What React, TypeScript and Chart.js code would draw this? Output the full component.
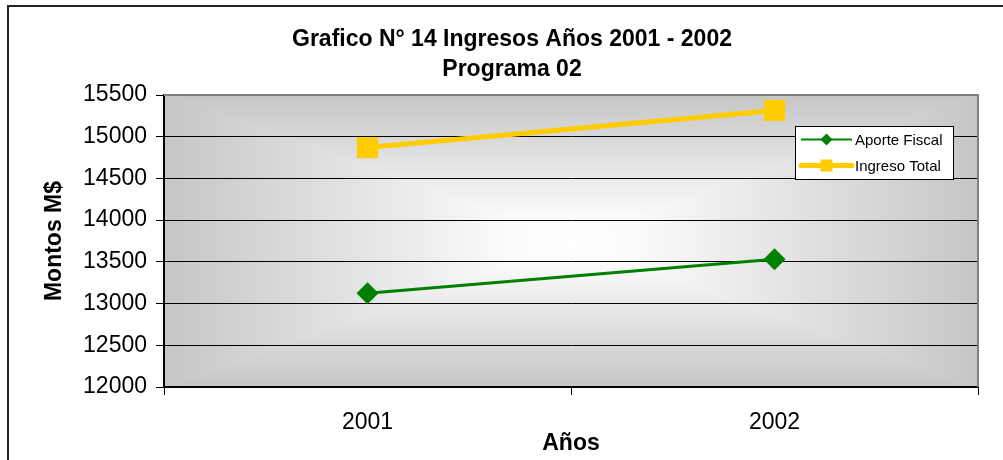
import React, { useEffect, useRef } from 'react';
import { Chart, registerables } from 'chart.js';

Chart.register(...registerables);

const FONT = '"Liberation Sans", Arial, Helvetica, sans-serif';

const categories = ['2001', '2002'];
const aporteFiscal = [13125, 13530];
const ingresoTotal = [14870, 15315];
const seriesLabels = ['Aporte Fiscal', 'Ingreso Total'];
const titleLines = ['Grafico N° 14 Ingresos Años 2001 - 2002', 'Programa 02'];
const yAxisTitle = 'Montos M$';
const xAxisTitle = 'Años';
const yMin = 12000;
const yMax = 15500;
const yStep = 500;

const GREEN = '#008000';
const YELLOW = '#FFCC00';

const plotBackground = {
  id: 'plotBackground',
  beforeDraw(chart: any) {
    const { ctx, chartArea: a } = chart;
    if (!a) return;
    const cx = (a.left + a.right) / 2;
    const cy = (a.top + a.bottom) / 2;
    const parts: [number, number, number, number, number, number][] = [
      [a.left, a.top, a.right, a.top, cx, a.top],
      [a.left, a.bottom, a.right, a.bottom, cx, a.bottom],
      [a.left, a.top, a.left, a.bottom, a.left, cy],
      [a.right, a.top, a.right, a.bottom, a.right, cy],
    ];
    ctx.save();
    ctx.beginPath();
    ctx.rect(a.left, a.top, a.right - a.left, a.bottom - a.top);
    ctx.clip();
    for (const [x1, y1, x2, y2, ex, ey] of parts) {
      const g = ctx.createLinearGradient(cx, cy, ex, ey);
      g.addColorStop(0, '#ffffff');
      g.addColorStop(0.15, '#fbfbfb');
      g.addColorStop(1, '#c6c6c6');
      ctx.beginPath();
      ctx.moveTo(cx, cy);
      ctx.lineTo(x1, y1);
      ctx.lineTo(x2, y2);
      ctx.closePath();
      ctx.fillStyle = g;
      ctx.strokeStyle = g;
      ctx.lineWidth = 1;
      ctx.fill();
      ctx.stroke();
    }
    ctx.restore();
  },
  beforeDatasetsDraw(chart: any) {
    const { ctx, chartArea: a } = chart;
    ctx.save();
    ctx.strokeStyle = '#808080';
    ctx.lineWidth = 2;
    ctx.beginPath();
    ctx.moveTo(a.left, a.top);
    ctx.lineTo(a.right, a.top);
    ctx.lineTo(a.right, a.bottom);
    ctx.stroke();
    ctx.restore();
  },
};

const frameAndLegend = {
  id: 'frameAndLegend',
  afterDraw(chart: any) {
    const { ctx, chartArea: a } = chart;
    ctx.save();
    ctx.strokeStyle = '#222';
    ctx.lineWidth = 2;
    ctx.strokeRect(8, 6, chart.width + 50, chart.height + 50);

    const w = 158;
    const h = 53;
    const x0 = a.right - 25 - w;
    const y0 = a.top + 31;
    ctx.fillStyle = '#ffffff';
    ctx.fillRect(x0, y0, w, h);
    ctx.strokeStyle = '#000';
    ctx.lineWidth = 1;
    ctx.strokeRect(x0 + 0.5, y0 + 0.5, w, h);

    chart.data.datasets.forEach((ds: any, i: number) => {
      const ry = y0 + 13.5 + i * 26;
      const lx1 = x0 + 6;
      const lx2 = x0 + 57;
      const mx = (lx1 + lx2) / 2;
      ctx.strokeStyle = ds.borderColor;
      ctx.lineWidth = i === 0 ? 2 : 5;
      ctx.lineCap = i === 0 ? 'butt' : 'round';
      ctx.beginPath();
      ctx.moveTo(lx1, ry);
      ctx.lineTo(lx2, ry);
      ctx.stroke();
      ctx.fillStyle = ds.backgroundColor;
      ctx.beginPath();
      if (ds.pointStyle === 'rectRot') {
        const r = 6;
        ctx.moveTo(mx - r, ry);
        ctx.lineTo(mx, ry - r);
        ctx.lineTo(mx + r, ry);
        ctx.lineTo(mx, ry + r);
        ctx.closePath();
      } else {
        const s = 6;
        ctx.rect(mx - s, ry - s, 2 * s, 2 * s);
      }
      ctx.fill();
      ctx.fillStyle = '#000';
      ctx.font = `15px ${FONT}`;
      ctx.textBaseline = 'middle';
      ctx.textAlign = 'left';
      ctx.fillText(ds.label, x0 + 60, ry + 1);
    });
    ctx.restore();
  },
};

export default function App() {
  const ref = useRef<HTMLCanvasElement>(null);

  useEffect(() => {
    if (!ref.current) return;
    const chart = new Chart(ref.current, {
      type: 'line',
      data: {
        labels: categories,
        datasets: [
          {
            label: seriesLabels[0],
            data: aporteFiscal,
            borderColor: GREEN,
            backgroundColor: GREEN,
            borderWidth: 3,
            pointStyle: 'rectRot',
            pointRadius: 11,
            pointBorderWidth: 0,
            pointBackgroundColor: GREEN,
            tension: 0,
          },
          {
            label: seriesLabels[1],
            data: ingresoTotal,
            borderColor: YELLOW,
            backgroundColor: YELLOW,
            borderWidth: 5,
            pointStyle: 'rect',
            pointRadius: 15,
            pointBorderWidth: 0,
            pointBackgroundColor: YELLOW,
            tension: 0,
          },
        ],
      },
      options: {
        animation: false,
        responsive: false,
        events: [],
        layout: { padding: { left: 46, right: 25, top: 0, bottom: 0 } },
        plugins: {
          legend: { display: false },
          tooltip: { enabled: false },
          title: {
            display: true,
            text: titleLines,
            color: '#000',
            font: { family: FONT, size: 23, weight: 'bold', lineHeight: '30px' },
            padding: { top: 25, bottom: 10 },
          },
        },
        scales: {
          x: {
            type: 'category',
            offset: true,
            grid: {
              offset: true,
              drawOnChartArea: false,
              drawTicks: true,
              tickLength: 8,
              color: '#000',
              tickColor: '#000',
            },
            border: { color: '#000', width: 2 },
            ticks: {
              color: '#000',
              font: { family: FONT, size: 23 },
              padding: 14,
              maxRotation: 0,
            },
            title: {
              display: true,
              text: xAxisTitle,
              color: '#000',
              font: { family: FONT, size: 23, weight: 'bold' },
              padding: { top: 0, bottom: 3 },
            },
            afterFit(scale: any) {
              scale.height = 73;
            },
          },
          y: {
            type: 'linear',
            min: yMin,
            max: yMax,
            ticks: {
              stepSize: yStep,
              color: '#000',
              font: { family: FONT, size: 23 },
              padding: 9,
              callback: (v: any) => String(v),
            },
            grid: {
              color: (c: any) => (c.tick && c.tick.value === yMax ? 'rgba(0,0,0,0)' : '#000'),
              lineWidth: 1,
              drawTicks: true,
              tickLength: 8,
              tickColor: '#000',
            },
            border: { color: '#000', width: 2 },
            title: {
              display: true,
              text: yAxisTitle,
              color: '#000',
              font: { family: FONT, size: 23, weight: 'bold', lineHeight: '18px' },
              padding: 0,
            },
            afterFit(scale: any) {
              scale.width = 118;
            },
          },
        },
      },
      plugins: [plotBackground, frameAndLegend],
    } as any);
    return () => chart.destroy();
  }, []);

  return (
    <div style={{ position: 'absolute', left: 0, top: 0, width: 1003, height: 460 }}>
      <canvas ref={ref} width={1003} height={460} />
    </div>
  );
}
